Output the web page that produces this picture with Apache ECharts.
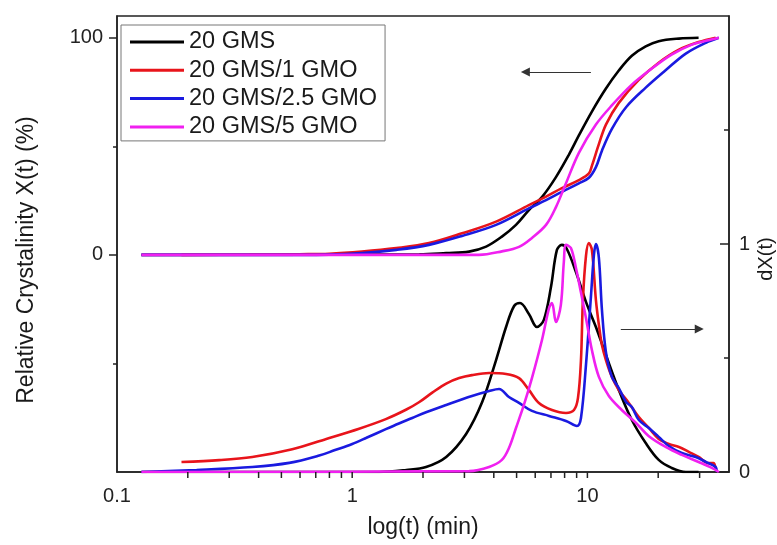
<!DOCTYPE html>
<html><head><meta charset="utf-8">
<script src="https://cdn.jsdelivr.net/npm/echarts@6/dist/echarts.min.js"></script>
<style>html,body{margin:0;padding:0;background:#fff}#c{width:777px;height:545px}</style>
</head><body><div id="c"></div>
<script>
const seriesNames = ['20 GMS', '20 GMS/1 GMO', '20 GMS/2.5 GMO', '20 GMS/5 GMO'];

// Relative crystallinity X(t) (%) vs t (min)
const gmsXt  = [0.127, 1.93, 2.51, 3.14, 3.71, 4.33, 4.97, 5.64, 6.41, 7.35, 8.35, 9.2, 10.45, 11.99, 13.6, 15.45, 17.7, 20.1, 24.5, 29.7];
const gmsX   = [0, 0.2, 0.8, 1.5, 3.8, 8.4, 13.8, 20.6, 26.6, 35.8, 46.2, 55, 66, 76.6, 84.9, 91.7, 96, 98.4, 99.6, 100];
const gmo1Xt = [0.188, 0.365, 0.596, 0.798, 1.10, 1.54, 2.12, 2.93, 4.09, 5.64, 6.67, 7.79, 9.2, 10.15, 10.45, 11.19, 11.99, 13.6, 16.5, 20.1, 24.5, 29.7, 35.1];
const gmo1X  = [0, 0.1, 0.3, 0.5, 1.5, 3.1, 5.4, 9.9, 15.3, 22.9, 26.8, 30.7, 34.4, 37.5, 41, 51, 60, 70, 80.5, 88.5, 94.5, 98, 100];
const gmo25Xt = [0.127, 0.596, 0.798, 1.10, 1.54, 2.12, 2.93, 4.09, 5.64, 6.67, 7.79, 9.2, 10.15, 10.87, 11.53, 12.71, 14.6, 17.7, 21.5, 26.2, 31.9, 36.2];
const gmo25X  = [0, 0, 0.1, 0.8, 2.3, 4.6, 8.7, 13.8, 21.4, 25.2, 29, 32.9, 35.5, 40.4, 48, 58, 68, 77, 85, 92.7, 97.7, 100];
const gmo5Xt = [0.127, 3.46, 4.33, 5.12, 5.81, 6.67, 7.35, 8.11, 9.2, 10.87, 12.7, 15.45, 18.8, 22.8, 27.8, 31.9, 36.2];
const gmo5X  = [0, 0, 1.6, 3.7, 7.8, 13.8, 22, 33, 47, 60, 68.8, 78.4, 85.8, 92.2, 96.8, 98.6, 100];

// dX(t) vs t (min)
const gmsDt  = [0.127, 1.30, 1.70, 2.06, 2.51, 3.05, 3.57, 4.09, 4.51, 4.88, 5.17, 5.64, 6.10, 6.53, 7.0, 7.42, 7.79, 8.18, 8.94, 9.86, 10.87, 11.99, 13.6, 15.45, 17.7, 20.1, 22.8, 26.2, 29.7];
const gmsD   = [0, 0, 0.009, 0.022, 0.066, 0.167, 0.307, 0.491, 0.636, 0.728, 0.741, 0.693, 0.636, 0.667, 0.811, 0.974, 0.996, 0.978, 0.877, 0.746, 0.636, 0.513, 0.360, 0.228, 0.127, 0.053, 0.018, 0, 0];
const gmo1Dt = [0.188, 0.272, 0.376, 0.556, 0.776, 1.07, 1.39, 1.70, 1.93, 2.19, 2.51, 2.85, 3.23, 3.82, 4.51, 5.12, 5.64, 6.22, 7.07, 8.11, 8.77, 9.12, 9.39, 9.57, 9.86, 10.14, 10.45, 10.87, 11.19, 11.53, 11.99, 12.71, 13.6, 15.0, 16.55, 18.25, 20.1, 22.2, 24.5, 27.0, 29.7, 32.8, 34.4, 35.1];
const gmo1D  = [0.044, 0.052, 0.066, 0.100, 0.145, 0.190, 0.232, 0.274, 0.307, 0.348, 0.388, 0.412, 0.425, 0.434, 0.430, 0.412, 0.360, 0.303, 0.272, 0.259, 0.272, 0.325, 0.491, 0.754, 0.947, 1.004, 0.974, 0.754, 0.645, 0.557, 0.491, 0.417, 0.360, 0.303, 0.241, 0.193, 0.145, 0.123, 0.110, 0.088, 0.066, 0.039, 0.039, 0.009];
const gmo25Dt = [0.127, 0.218, 0.376, 0.540, 0.724, 0.839, 1.0, 1.15, 1.39, 1.58, 1.80, 2.06, 2.51, 3.23, 3.82, 4.21, 4.64, 5.12, 5.81, 6.87, 8.11, 9.03, 9.39, 9.86, 10.35, 10.66, 10.87, 11.19, 11.53, 11.99, 12.71, 13.6, 14.6, 15.45, 16.55, 18.25, 20.1, 22.2, 25.2, 28.9, 31.9, 35.1, 35.5];
const gmo25D  = [0, 0.009, 0.022, 0.040, 0.072, 0.095, 0.123, 0.150, 0.188, 0.213, 0.237, 0.262, 0.294, 0.333, 0.355, 0.364, 0.329, 0.303, 0.268, 0.246, 0.224, 0.202, 0.237, 0.469, 0.768, 0.952, 1.0, 0.939, 0.711, 0.526, 0.417, 0.368, 0.307, 0.285, 0.228, 0.193, 0.154, 0.114, 0.083, 0.066, 0.044, 0.022, 0];
const gmo5Dt = [0.127, 3.14, 3.82, 4.33, 4.64, 4.97, 5.37, 5.81, 6.41, 6.87, 7.07, 7.35, 7.71, 7.94, 8.11, 8.51, 8.94, 9.38, 9.86, 10.45, 11.19, 12.34, 14.0, 16.1, 18.2, 21.5, 25.2, 29.7, 33.8, 36.2];
const gmo5D  = [0, 0.004, 0.022, 0.053, 0.105, 0.193, 0.294, 0.412, 0.579, 0.719, 0.741, 0.658, 0.732, 0.921, 0.996, 0.982, 0.895, 0.789, 0.675, 0.535, 0.417, 0.333, 0.272, 0.215, 0.158, 0.110, 0.075, 0.044, 0.018, 0];

// axis ticks / labels
const xMin = 0.1, xMax = 40;
const xLabelValues = [0.1, 1, 10];
const xTickValues = [0.2, 0.3, 0.4, 0.5, 0.6, 0.7, 0.8, 0.9, 1, 2, 3, 4, 5, 6, 7, 8, 9, 10, 20, 30];
const yLeftMajor = [0, 100];
const yLeftMinor = [-50, 50];
const yRightMajor = [0, 1];
const yRightMinor = [0.5, 1.5];

// annotation arrows: [tail, head] in data coordinates
const arrowLeft = [[10.35, 84.2], [5.45, 84.2]];
const arrowRight = [[13.87, 0.627], [29.9, 0.627]];

const colors = ['#000000', '#e8141b', '#1a1ae0', '#f020f0'];
const axisColor = '#222';
const FONT = 'Liberation Sans, Arial, sans-serif';
const zip = (a, b) => a.map((v, i) => [v, b[i]]);

const upper = [[gmsXt, gmsX], [gmo1Xt, gmo1X], [gmo25Xt, gmo25X], [gmo5Xt, gmo5X]];
const lower = [[gmsDt, gmsD], [gmo1Dt, gmo1D], [gmo25Dt, gmo25D], [gmo5Dt, gmo5D]];

const series = [];
upper.forEach((c, i) => series.push({
  name: seriesNames[i], type: 'line', xAxisIndex: 0, yAxisIndex: 0,
  data: zip(c[0], c[1]), symbol: 'none', smooth: 0.35,
  lineStyle: { width: 2.6, color: colors[i] }, itemStyle: { color: colors[i] }, z: 2 + i
}));
lower.forEach((c, i) => series.push({
  name: seriesNames[i], type: 'line', xAxisIndex: 0, yAxisIndex: 1,
  data: zip(c[0], c[1]), symbol: 'none', smooth: 0.35,
  lineStyle: { width: 2.6, color: colors[i] }, itemStyle: { color: colors[i] }, z: 2 + i
}));
const arrowLine = { color: '#333', width: 1.2, type: 'solid' };
series[0].markLine = { silent: true, symbol: ['none', 'triangle'], symbolSize: 9, label: { show: false },
  lineStyle: arrowLine, emphasis: { disabled: true },
  data: [[{ coord: arrowLeft[0] }, { coord: arrowLeft[1] }]] };
series[4].markLine = { silent: true, symbol: ['none', 'triangle'], symbolSize: 9, label: { show: false },
  lineStyle: arrowLine, emphasis: { disabled: true },
  data: [[{ coord: arrowRight[0] }, { coord: arrowRight[1] }]] };
// minor/major tick marks of the log x axis, positioned through the axis scale
series.push({
  type: 'custom', xAxisIndex: 0, yAxisIndex: 1, silent: true, clip: false, z: 20,
  data: xTickValues.map(v => [v, 0]),
  renderItem: (params, api) => {
    const p = api.coord([api.value(0), api.value(1)]);
    return { type: 'line', shape: { x1: p[0], y1: p[1], x2: p[0], y2: p[1] + 6 },
      style: { stroke: axisColor, lineWidth: 1.5 } };
  }
});

const fmt = v => String(parseFloat(Number(v).toPrecision(3)));

const chart = echarts.init(document.getElementById('c'), null, { renderer: 'canvas' });
chart.setOption({
  animation: false,
  backgroundColor: '#fff',
  grid: { left: 117, right: 48, top: 16, bottom: 73, show: true, borderColor: axisColor, borderWidth: 1.5, backgroundColor: 'transparent' },
  legend: {
    data: seriesNames.map(n => ({ name: n, icon: 'rect' })), orient: 'vertical', left: 121, top: 25, selectedMode: false,
    padding: [5, 8, 2, 9], itemGap: 4.3, itemWidth: 54, itemHeight: 3,
    borderColor: '#777', borderWidth: 1, backgroundColor: '#fff',
    textStyle: { fontFamily: FONT, fontSize: 23.5, color: '#1a1a1a', lineHeight: 24 }
  },
  xAxis: [{
    type: 'log', logBase: 10, min: xMin, max: xMax,
    axisLine: { onZero: false, lineStyle: { color: axisColor, width: 1.5 } },
    axisTick: { show: false },
    axisLabel: { customValues: xLabelValues, formatter: fmt, fontFamily: FONT, fontSize: 20, color: '#222', margin: 14 },
    splitLine: { show: false }, minorTick: { show: false }
  }],
  yAxis: [{
    type: 'value', position: 'left', min: -100, max: 110,
    axisLine: { show: true, onZero: false, lineStyle: { color: axisColor, width: 1.5 } },
    axisTick: { show: true, customValues: yLeftMajor, length: 8, lineStyle: { color: axisColor, width: 1.5 } },
    axisLabel: { customValues: yLeftMajor, formatter: fmt, fontFamily: FONT, fontSize: 20, color: '#222', margin: 14 },
    splitLine: { show: false }
  }, {
    type: 'value', position: 'right', min: 0, max: 2,
    axisLine: { show: true, onZero: false, lineStyle: { color: axisColor, width: 1.5 } },
    axisTick: { show: true, inside: true, customValues: yRightMajor, length: 9, lineStyle: { color: axisColor, width: 1.5 } },
    axisLabel: { customValues: yRightMajor, formatter: fmt, fontFamily: FONT, fontSize: 20, color: '#222', margin: 10 },
    splitLine: { show: false }
  }, {
    type: 'value', position: 'left', min: -100, max: 110,
    axisLine: { show: false, onZero: false },
    axisTick: { show: true, customValues: yLeftMinor, length: 4, lineStyle: { color: axisColor, width: 1.5 } },
    axisLabel: { show: false }, splitLine: { show: false }
  }, {
    type: 'value', position: 'right', min: 0, max: 2,
    axisLine: { show: false, onZero: false },
    axisTick: { show: true, inside: true, customValues: yRightMinor, length: 5, lineStyle: { color: axisColor, width: 1.5 } },
    axisLabel: { show: false }, splitLine: { show: false }
  }],
  graphic: [
    { type: 'text', x: 27, y: 260, rotation: Math.PI / 2, silent: true,
      style: { text: 'Relative Crystalinity X(t) (%)', font: '23px ' + FONT, fill: '#1a1a1a', align: 'center', verticalAlign: 'middle' } },
    { type: 'text', x: 423, y: 528, silent: true,
      style: { text: 'log(t) (min)', font: '23px ' + FONT, fill: '#1a1a1a', align: 'center', verticalAlign: 'middle' } },
    { type: 'text', x: 766, y: 259, rotation: Math.PI / 2, silent: true,
      style: { text: 'dX(t)', font: '20px ' + FONT, fill: '#1a1a1a', align: 'center', verticalAlign: 'middle' } }
  ],
  series: series
});
</script></body></html>
